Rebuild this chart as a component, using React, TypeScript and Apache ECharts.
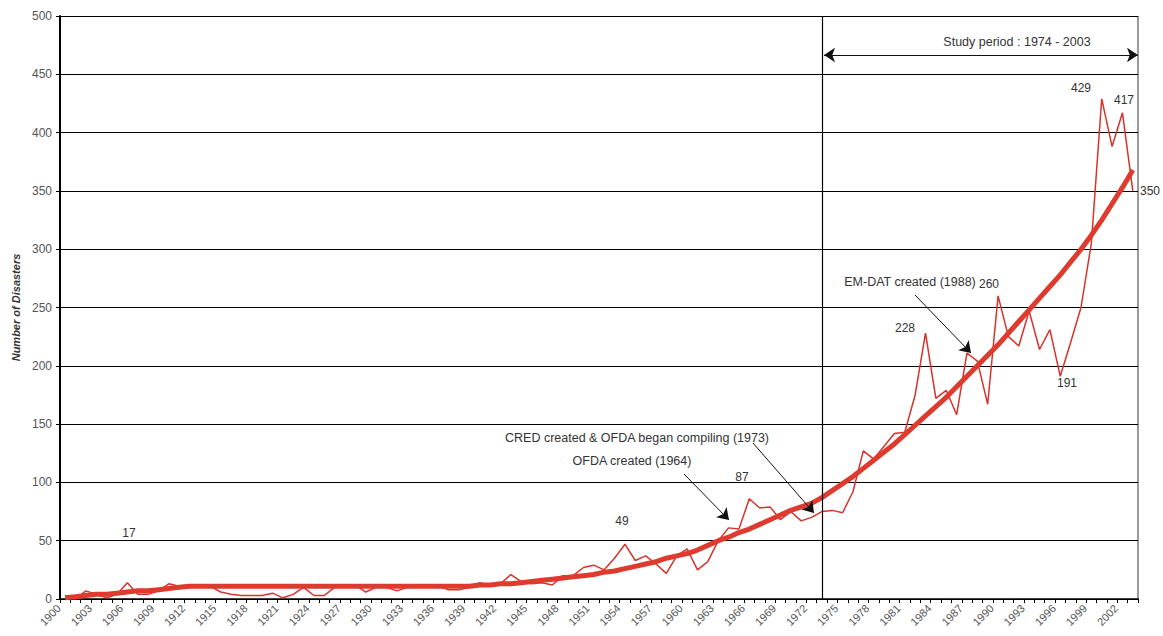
import React, { useEffect, useRef } from "react";
import * as echarts from "echarts";

const years: string[] = Array.from({ length: 104 }, (_, i) => String(1900 + i));

// Annual number of disasters (thin line), 1900-2003
const annual: number[] = [
  3, 0, 7, 4, 1, 4, 14, 4, 4, 7,
  13, 11, 12, 11, 11, 6, 4, 3, 3, 3,
  5, 1, 4, 10, 3, 3, 10, 11, 12, 6,
  10, 10, 7, 10, 10, 12, 11, 8, 8, 10,
  14, 12, 13, 21, 15, 13, 14, 12, 20, 20,
  27, 29, 25, 35, 47, 33, 37, 30, 22, 37,
  43, 25, 32, 50, 61, 60, 86, 78, 79, 68,
  75, 67, 70, 75, 76, 74, 92, 127, 120, 131,
  142, 143, 175, 228, 172, 179, 158, 211, 204, 167,
  260, 225, 217, 247, 214, 231, 191, 220, 250, 305,
  429, 388, 417, 350,
];

// Trend (thick line), 1900-2003
const trend: number[] = [
  1, 2, 3, 4, 4, 5, 6, 7, 7, 8,
  9, 10, 11, 11, 11, 11, 11, 11, 11, 11,
  11, 11, 11, 11, 11, 11, 11, 11, 11, 11,
  11, 11, 11, 11, 11, 11, 11, 11, 11, 11,
  12, 12, 13, 13, 14, 15, 16, 17, 18, 19,
  20, 21, 23, 24, 26, 28, 30, 32, 35, 37,
  39, 42, 46, 50, 53, 57, 60, 64, 68, 72,
  76, 79, 82, 87, 93, 99, 105, 112, 119, 126,
  133, 141, 149, 157, 165, 173, 182, 191, 200, 209,
  218, 228, 238, 248, 258, 268, 278, 289, 300, 312,
  325, 339, 353, 368,
];

const yTicks = { min: 0, max: 500, interval: 50 };
const studyStart = "1973";

const FONT = "'Liberation Sans', Arial, sans-serif";
const TXT = "#333333";

function txt(text: string, x: number, y: number, size = 12.5, align = "center") {
  return {
    type: "text",
    x,
    y,
    silent: true,
    style: {
      text,
      fill: TXT,
      font: `${size}px ${FONT}`,
      textAlign: align,
      textVerticalAlign: "middle",
    },
  };
}

export default function App() {
  const ref = useRef<HTMLDivElement>(null);
  useEffect(() => {
    if (!ref.current) return;
    const chart = echarts.init(ref.current, undefined, { renderer: "svg" });
    const option: any = {
      animation: false,
      backgroundColor: "#ffffff",
      textStyle: { fontFamily: FONT },
      grid: { left: 60, right: 25, top: 16, bottom: 37, containLabel: false },
      xAxis: {
        type: "category",
        data: years,
        boundaryGap: true,
        axisLine: { lineStyle: { color: "#000", width: 1.5 } },
        axisTick: { show: true, interval: 0, length: 4, lineStyle: { color: "#000" } },
        axisLabel: {
          interval: 2,
          rotate: 45,
          fontSize: 11,
          color: "#555",
          margin: 1,
          padding: [0, 9, 0, 0],
        },
        splitLine: { show: false },
      },
      yAxis: {
        type: "value",
        min: yTicks.min,
        max: yTicks.max,
        interval: yTicks.interval,
        name: "Number of Disasters",
        nameLocation: "middle",
        nameGap: 38,
        nameRotate: 90,
        nameTextStyle: { fontSize: 11, fontStyle: "italic", fontWeight: "bold", color: "#333" },
        axisLine: { show: true, lineStyle: { color: "#000", width: 2 } },
        axisTick: { show: true, length: 4, lineStyle: { color: "#000" } },
        axisLabel: { fontSize: 12, color: "#555", margin: 8 },
        splitLine: { lineStyle: { color: "#000", width: 1 } },
      },
      series: [
        {
          type: "line",
          data: annual,
          showSymbol: false,
          symbol: "none",
          lineStyle: { color: "#d8322b", width: 1.5 },
          z: 2,
          markLine: {
            silent: true,
            animation: false,
            label: { show: false },
            lineStyle: { color: "#000", width: 1.2, type: "solid" },
            symbol: "none",
            data: [{ xAxis: studyStart }],
          },
        },
        {
          type: "line",
          data: trend,
          showSymbol: false,
          symbol: "none",
          lineStyle: { color: "#de3a2e", width: 5 },
          z: 3,
          markLine: {
            silent: true,
            animation: false,
            label: { show: false },
            lineStyle: { color: "#111", width: 1, type: "solid" },
            symbol: ["none", "arrow"],
            symbolSize: 11,
            data: [
              [{ x: 684, y: 474 }, { x: 729, y: 520 }],
              [{ x: 753, y: 443 }, { x: 814, y: 513 }],
              [{ x: 915, y: 295 }, { x: 971, y: 353 }],
              [
                { x: 824, y: 55, symbol: "arrow" },
                { x: 1138, y: 55, symbol: "arrow" },
              ],
            ],
          },
        },
      ],
      graphic: [
        {
          type: "line",
          silent: true,
          shape: { x1: 1138, y1: 16, x2: 1138, y2: 599 },
          style: { stroke: "#999", lineWidth: 2 },
        },
        txt("17", 129, 533, 12),
        txt("49", 622, 521, 12),
        txt("87", 742, 477, 12),
        txt("228", 905, 328, 12),
        txt("260", 989, 284, 12),
        txt("191", 1067, 383, 12),
        txt("429", 1081, 88, 12),
        txt("417", 1124, 100, 12),
        txt("350", 1150, 191, 12),
        txt("EM-DAT created (1988)", 910, 282),
        txt("CRED created & OFDA began compiling (1973)", 637, 438),
        txt("OFDA created (1964)", 632, 461),
        txt("Study period : 1974 - 2003", 1017, 42),
      ],
    };
    chart.setOption(option);
    return () => chart.dispose();
  }, []);
  return (
    <div
      ref={ref}
      style={{ position: "absolute", left: 0, top: 0, width: 1163, height: 636 }}
    />
  );
}
